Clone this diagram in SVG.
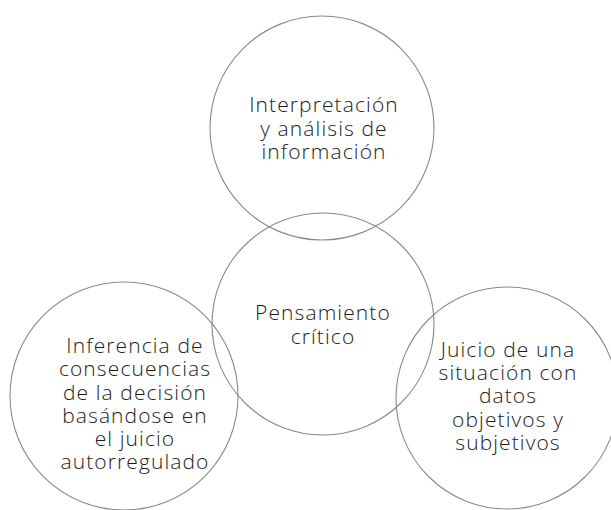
<svg xmlns="http://www.w3.org/2000/svg" width="611" height="510" viewBox="0 0 611 510">
<style>
.c{fill:none;stroke:#8a8a8a;stroke-width:1.1}
.t{font-family:"Open Sans","Noto Sans",sans-serif;font-weight:300;font-size:21px;letter-spacing:1.1px;fill:#1c1c1c;text-anchor:middle}
</style>
<rect width="611" height="510" fill="#ffffff"/>
<g id="connectors"></g>
<g id="node-top">
<circle class="c" cx="322" cy="128" r="112"/>
<text class="t"><tspan x="324" y="112">Interpretación</tspan><tspan x="324" y="135.5">y análisis de</tspan><tspan x="324" y="159">información</tspan></text>
</g>
<g id="node-center">
<circle class="c" cx="323" cy="324" r="111"/>
<text class="t"><tspan x="323" y="320">Pensamiento</tspan><tspan x="323" y="344">crítico</tspan></text>
</g>
<g id="node-left">
<circle class="c" cx="124" cy="396" r="114"/>
<text class="t"><tspan x="135" y="353">Inferencia de</tspan><tspan x="135" y="376">consecuencias</tspan><tspan x="135" y="399.5">de la decisión</tspan><tspan x="135" y="422.5">basándose en</tspan><tspan x="135" y="445.5">el juicio</tspan><tspan x="135" y="468.5">autorregulado</tspan></text>
</g>
<g id="node-right">
<circle class="c" cx="507" cy="398" r="111"/>
<text class="t"><tspan x="508" y="357">Juicio de una</tspan><tspan x="508" y="380">situación con</tspan><tspan x="508" y="403">datos</tspan><tspan x="508" y="427">objetivos y</tspan><tspan x="508" y="450">subjetivos</tspan></text>
</g>
</svg>
